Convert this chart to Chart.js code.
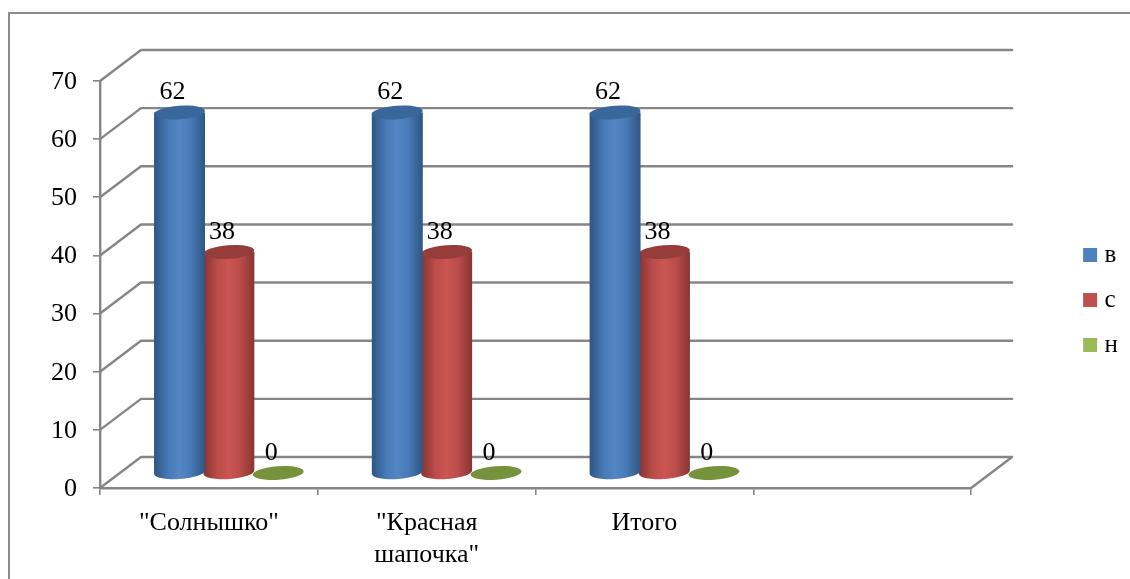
<!DOCTYPE html>
<html><head><meta charset="utf-8">
<style>html,body{margin:0;padding:0;background:#fff;overflow:hidden}#w{width:1130px;height:579px}</style>
<script src="https://cdn.jsdelivr.net/npm/chart.js@4"></script></head>
<body><div id="w"><canvas id="c"></canvas></div>
<script>
const categories = ['"Солнышко"', ['"Красная','шапочка"'], 'Итого', ''];
const seriesNames = ['в','с','н'];
const valuesV = [62,62,62,null];
const valuesS = [38,38,38,null];
const valuesN = [0,0,0,null];
const yMax = 70, yStep = 10;
const DEPTH_X = 41, DEPTH_Y = 31, BAR_DX = 20, BAR_DY = -15;
const GRID = '#868686';
const FONT = '"Liberation Serif"';
const legendColors = ['#4f81bd','#c0504d','#9bbb59'];
const edgeColors = ['#2f5582','#873432','#6f8a3a'];
const shoulderColors = ['#477ab6','#bb4d4a','#9bbb59'];
const midColors = ['#5386c4','#cb5552','#9bbb59'];
const topColors = ['#3a679b','#963c3a','#76923c'];

const scene = {
  id:'scene',
  beforeDraw(ch){
    const c=ch.ctx; c.save();
    c.strokeStyle='#8c8c8c'; c.lineWidth=2;
    c.beginPath(); c.moveTo(9,579); c.lineTo(9,13); c.lineTo(1130,13); c.stroke();
    c.restore();
  },
  beforeDatasetsDraw(ch){
    const c=ch.ctx, y=ch.scales.y, l=ch.chartArea.left, r=ch.chartArea.right;
    c.save(); c.strokeStyle=GRID; c.lineWidth=2.4; c.lineCap='round'; c.lineJoin='round';
    y.ticks.forEach(t=>{
      const py=y.getPixelForValue(t.value);
      c.beginPath(); c.moveTo(l,py); c.lineTo(l+DEPTH_X,py-DEPTH_Y); c.lineTo(r+DEPTH_X,py-DEPTH_Y);
      if(t.value===0){ c.lineTo(r,py); }
      c.stroke();
    });
    c.restore();
  },
  beforeDatasetDraw(ch,args){
    const i=args.index, meta=ch.getDatasetMeta(i), c=ch.ctx, vals=ch.data.datasets[i].data;
    const TILT=-0.07;
    meta.data.forEach((b,j)=>{
      if(vals[j]==null) return;
      const p=b.getProps(['x','y','base','width'],true);
      const cx=p.x+BAR_DX, top=p.y+BAR_DY, bot=p.base+BAR_DY, rx=p.width/2+0.8, ry=6.8;
      c.save();
      if(bot-top>1){
        const g=c.createLinearGradient(cx-rx,0,cx+rx,0);
        g.addColorStop(0,edgeColors[i]); g.addColorStop(.28,shoulderColors[i]); g.addColorStop(.5,midColors[i]);
        g.addColorStop(.72,shoulderColors[i]); g.addColorStop(1,edgeColors[i]);
        c.fillStyle=g;
        c.beginPath();
        c.moveTo(cx-rx,top);
        c.lineTo(cx-rx,bot);
        c.ellipse(cx,bot,rx,ry,TILT,Math.PI,0,true);
        c.lineTo(cx+rx,top);
        c.closePath(); c.fill();
      }
      c.fillStyle=topColors[i];
      c.beginPath(); c.ellipse(cx,top,rx,ry,TILT,0,Math.PI*2); c.fill();
      c.restore();
    });
    return false;
  },
  afterDatasetsDraw(ch){
    const c=ch.ctx;
    c.save(); c.fillStyle='#000'; c.font='26px '+FONT; c.textAlign='center'; c.textBaseline='middle';
    ch.data.datasets.forEach((ds,i)=>{
      ch.getDatasetMeta(i).data.forEach((b,j)=>{
        if(ds.data[j]==null) return;
        const p=b.getProps(['x','y'],true);
        c.fillText(String(ds.data[j]),p.x+BAR_DX-7,p.y+BAR_DY-20);
      });
    });
    c.restore();
  }
};

const ds=(k,v)=>({label:seriesNames[k],data:v,xAxisID:'x',yAxisID:'y',backgroundColor:legendColors[k],borderColor:legendColors[k],borderWidth:10});

new Chart(document.getElementById('c'),{
  type:'bar',
  data:{labels:categories,datasets:[ds(0,valuesV),ds(1,valuesS),ds(2,valuesN)]},
  options:{
    responsive:true,maintainAspectRatio:false,animation:false,
    categoryPercentage:0.68,barPercentage:1,
    layout:{padding:{left:40,top:21,right:2,bottom:0}},
    plugins:{
      tooltip:{enabled:false},
      legend:{position:'right',
        labels:{boxWidth:4,boxHeight:4,padding:20,color:'#000',font:{family:FONT,size:25}}}
    },
    scales:{
      x:{
        afterFit(s){s.height=91;},
        grid:{drawOnChartArea:false,drawTicks:true,tickLength:7,color:GRID,lineWidth:1.6,offset:true},
        border:{display:true,color:GRID,width:2.4},
        ticks:{color:'#000',maxRotation:0,autoSkip:false,padding:13,font:{family:FONT,size:26,lineHeight:1.2}}
      },
      x2:{
        type:'category',position:'top',display:true,labels:[''],
        afterFit(s){s.height=60;},
        grid:{display:false},border:{display:false},ticks:{display:false}
      },
      y:{
        min:0,max:yMax,
        afterFit(s){s.width=60;},
        grid:{drawOnChartArea:false,drawTicks:true,tickLength:7,color:GRID,lineWidth:1.6},
        border:{display:true,color:GRID,width:2.4},
        ticks:{stepSize:yStep,color:'#000',padding:16,labelOffset:1,font:{family:FONT,size:26}}
      },
      y2:{
        type:'linear',position:'right',display:true,
        afterFit(s){s.width=97;},
        grid:{display:false},border:{display:false},ticks:{display:false}
      }
    }
  },
  plugins:[scene]
});
</script></body></html>
